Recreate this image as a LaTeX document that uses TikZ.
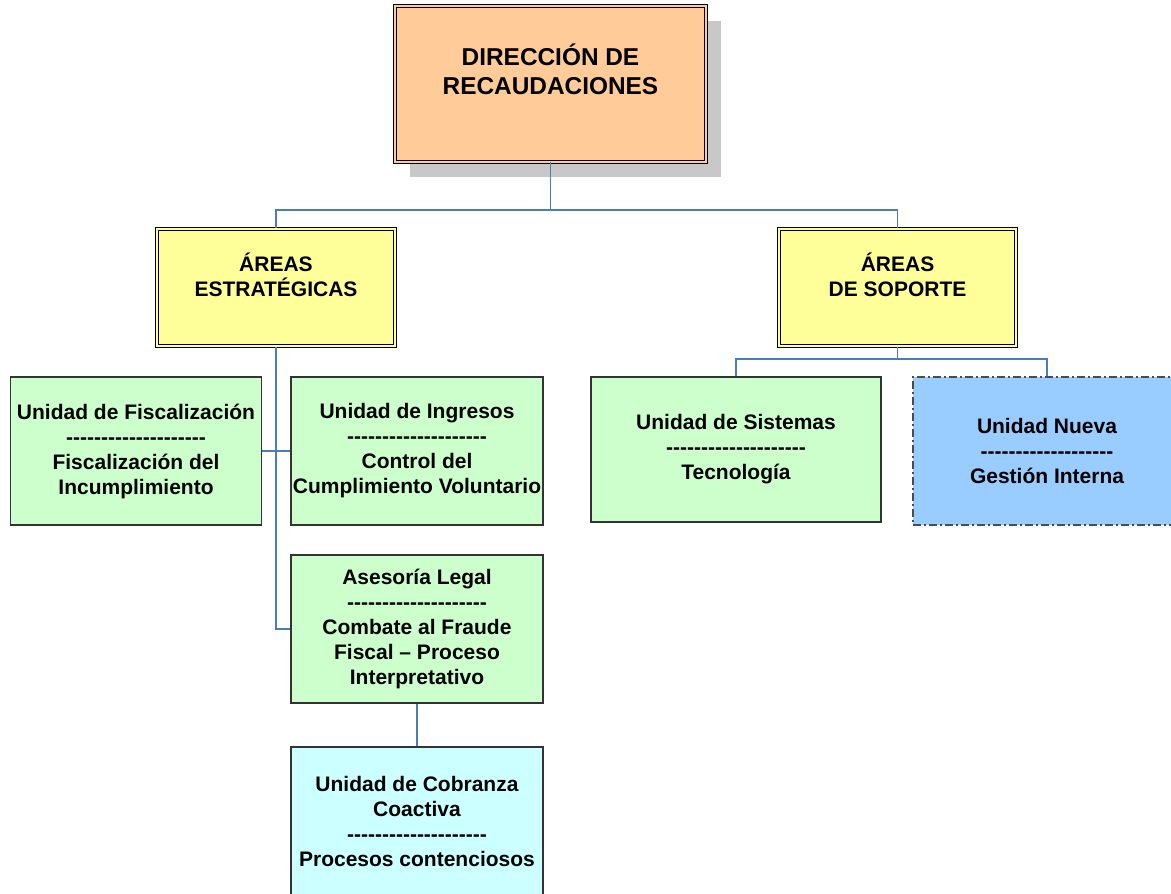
\documentclass[tikz,border=0pt]{standalone}
\usepackage{fontspec}
\setmainfont{Liberation Sans}[Ligatures=TeXOff]
\usepackage{tikz}
\usetikzlibrary{shadows}

\definecolor{durazno}{HTML}{FFCC99}
\definecolor{amarillo}{HTML}{FFFF99}
\definecolor{verde}{HTML}{CCFFCC}
\definecolor{celeste}{HTML}{CCFFFF}
\definecolor{azul}{HTML}{99CCFF}
\definecolor{sombra}{HTML}{C8C8C8}
\definecolor{azulinea}{HTML}{4A7EBB}
\newcommand{\rayas}{--------------------}

\begin{document}
\begin{tikzpicture}[x=0.5pt,y=-0.5pt,
		font=\bfseries\fontsize{10.5}{12.5}\selectfont,
		caja/.style={draw=black!80, line width=0.6pt, align=center, inner sep=1pt},
		doble/.style={caja, draw=black, line width=0.5pt, double=#1, double distance=1.2pt, fill=#1},
		tam/.style 2 args={minimum width=#1*0.5pt, minimum height=#2*0.5pt},
		linea/.style={draw=azulinea, line width=0.6pt}]
				\useasboundingbox (0,0) rectangle (1171,893);
				\clip (0,0) rectangle (1171,893);
				% direccion
				\node[doble=durazno, tam={311}{156}, font=\bfseries\fontsize{12.2}{14.6}\selectfont,
					drop shadow={shadow xshift=7.5pt, shadow yshift=-7.5pt, fill=sombra, opacity=1}]
					(dir) at (550.5,84) {DIRECCIÓN DE\\RECAUDACIONES\\\mbox{}};
				% areas
				\node[doble=amarillo, tam={238}{117}] (estr) at (276,287.5) {ÁREAS\\ESTRATÉGICAS\\\mbox{}};
				\node[doble=amarillo, tam={237}{117}] (sop) at (897.5,287.5) {ÁREAS\\DE SOPORTE\\\mbox{}};
				% unidades
				\node[caja, fill=verde, tam={251}{148}] (fisc) at (136,451)
					{Unidad de Fiscalización\\\rayas\\Fiscalización del\\Incumplimiento};
				\node[caja, fill=verde, tam={252}{148}] (ingr) at (417,451)
					{Unidad de Ingresos\\\rayas\\Control del\\Cumplimiento Voluntario};
				\node[caja, fill=verde, tam={252}{148}] (ases) at (417,629)
					{Asesoría Legal\\\rayas\\Combate al Fraude\\Fiscal – Proceso\\Interpretativo};
				\node[caja, fill=celeste, tam={252}{148}] (cobr) at (417,821)
					{Unidad de Cobranza\\Coactiva\\\rayas\\Procesos contenciosos};
				\node[caja, fill=verde, tam={290}{145}] (sist) at (736,449.5)
					{Unidad de Sistemas\\\rayas\\Tecnología};
				\node[caja, fill=azul, draw=black!70, dash pattern=on 4pt off 1.5pt on 1pt off 1.5pt,
					tam={268}{148}] (nueva) at (1047,451)
					{Unidad Nueva\\-------------------\\Gestión Interna};
				% conectores
				\coordinate (barra1) at (550.5,210);
				\coordinate (barra2) at (897.5,359);
				\draw[linea] (dir.south) -- (barra1);
				\draw[linea] (estr.north) |- (barra1) -| (sop.north);
				\draw[linea] (estr.south) |- (ases.west);
				\draw[linea] (fisc.east) -- (ingr.west);
				\draw[linea] (ases.south) -- (cobr.north);
				\draw[linea] (sop.south) -- (barra2);
				\draw[linea] (sist.north) |- (barra2) -| (nueva.north);
			\end{tikzpicture}
\end{document}
